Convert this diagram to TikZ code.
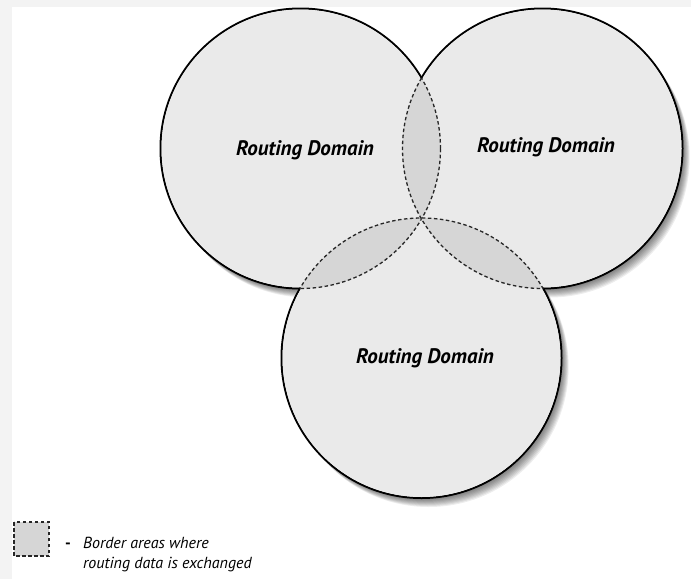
\documentclass[tikz,border=0pt]{standalone}
\usepackage{fontspec}
\setsansfont{PT Sans}
\usetikzlibrary{calc}
\usepackage{xcolor}
\definecolor{framegray}{HTML}{F3F3F3}
\definecolor{domaingray}{HTML}{EAEAEA}
\definecolor{bordergray}{HTML}{D6D6D6}
\tikzset{
  domainlabel/.style={font=\sffamily\bfseries\itshape\fontsize{21}{23}\selectfont},
  legendtext/.style={font=\sffamily\itshape\fontsize{16}{18}\selectfont, anchor=west, inner sep=0pt},
  borderline/.style={draw=black!85, line width=1.3pt, dash pattern=on 3.5pt off 2.5pt}
}
\def\rad{140pt}

\begin{document}
\begin{tikzpicture}[x=1pt,y=-1pt]
\useasboundingbox (0,0) rectangle (691,579);
\fill[framegray] (0,0) rectangle (691,579);
\fill[white] (12,7) rectangle (691,579);

\coordinate (left) at (300.5,148.5);
\coordinate (right) at (542.5,148.5);
\coordinate (bottom) at (421.5,358);

\foreach \s in {1,...,9}
  \foreach \c in {left,right,bottom}
    \fill[black, opacity=0.07] ($(\c)+(\s*0.8,\s*1)$) circle (\rad);

\foreach \c in {left,right,bottom}
  \filldraw[fill=domaingray, draw=black, line width=2pt] (\c) circle (\rad);
\foreach \c in {left,right,bottom}
  \fill[domaingray] (\c) circle (139pt);

\foreach \a/\b in {left/right,left/bottom,right/bottom}{
  \begin{scope}
    \clip (\a) circle (\rad);
    \fill[bordergray] (\b) circle (\rad);
    \draw[borderline] (\b) circle (\rad);
  \end{scope}
  \begin{scope}
    \clip (\b) circle (\rad);
    \draw[borderline] (\a) circle (\rad);
  \end{scope}
}

\node[domainlabel] (lbl-left) at (305,150) {Routing Domain};
\node[domainlabel] (lbl-right) at (546,147) {Routing Domain};
\node[domainlabel] (lbl-bottom) at (425,358) {Routing Domain};

\filldraw[fill=bordergray, borderline] (14,522) rectangle (49,556);
\node[legendtext, font=\sffamily\bfseries\fontsize{16}{18}\selectfont] (dash) at (65,546) {-};
\node[legendtext] (legend1) at (83,543) {Border areas where};
\node[legendtext] (legend2) at (83,565) {routing data is exchanged};
\end{tikzpicture}
\end{document}
